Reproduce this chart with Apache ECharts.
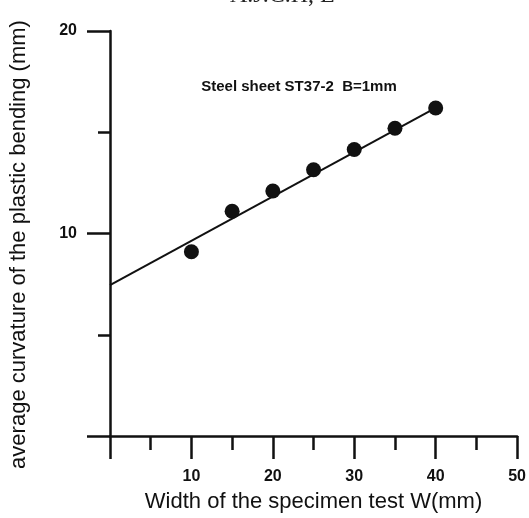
<!DOCTYPE html>
<html>
<head>
<meta charset="utf-8">
<script src="https://cdn.jsdelivr.net/npm/echarts@6/dist/echarts.min.js"></script>
<style>html,body{margin:0;padding:0;background:#fff}#c{width:529px;height:518px}</style>
</head>
<body>
<div id="c"></div>
<script>
var widths = [10, 15, 20, 25, 30, 35, 40];
var curvature = [9.1, 11.1, 12.1, 13.15, 14.15, 15.2, 16.2];
var fitLine = [[0, 7.45], [40, 16.2]];
var xLabels = [10, 20, 30, 40, 50];
var yLabels = [10, 20];

var chart = echarts.init(document.getElementById('c'), null, {renderer: 'canvas'});
var axisLine = {show: true, onZero: false, lineStyle: {color: '#111', width: 2.5}};
chart.setOption({
  backgroundColor: '#ffffff',
  animation: false,
  title: {
    text: 'Steel sheet ST37-2  B=1mm',
    left: 294, top: 74, textAlign: 'center',
    textStyle: {fontFamily: 'Liberation Sans, Arial', fontSize: 15, fontWeight: 'bold', color: '#111'}
  },
  graphic: [{
    type: 'text', left: 230, top: -16,
    style: {text: 'A.J.C.H, E', font: '24px "Liberation Serif", serif', fill: '#222'}
  }],
  grid: {left: 106, right: 9, top: 31, bottom: 79, containLabel: false},
  xAxis: {
    type: 'value', min: 0, max: 50, interval: 10,
    axisLine: axisLine,
    axisTick: {show: true, length: 23, lineStyle: {color: '#111', width: 2.5}},
    minorTick: {show: true, splitNumber: 2, length: 14, lineStyle: {color: '#111', width: 2.5}},
    splitLine: {show: false},
    axisLabel: {
      margin: 33,
      formatter: function (v) { return xLabels.indexOf(v) >= 0 ? String(v) : ''; },
      fontFamily: 'Liberation Sans, Arial', fontSize: 16, fontWeight: 'bold', color: '#111'
    },
    name: 'Width of the specimen test W(mm)',
    nameLocation: 'middle', nameGap: 55,
    nameTextStyle: {fontFamily: 'Liberation Sans, Arial', fontSize: 22, color: '#111'}
  },
  yAxis: {
    type: 'value', min: 0, max: 20, interval: 10,
    axisLine: axisLine,
    axisTick: {show: true, length: 23, lineStyle: {color: '#111', width: 2.5}},
    minorTick: {show: true, splitNumber: 2, length: 12, lineStyle: {color: '#111', width: 2.5}},
    splitLine: {show: false},
    axisLabel: {
      margin: 33,
      formatter: function (v) { return yLabels.indexOf(v) >= 0 ? String(v) : ''; },
      fontFamily: 'Liberation Sans, Arial', fontSize: 16, fontWeight: 'bold', color: '#111'
    },
    name: 'average curvature of the plastic bending (mm)',
    nameLocation: 'middle', nameGap: 80,
    nameTextStyle: {fontFamily: 'Liberation Sans, Arial', fontSize: 22, color: '#111', padding: [0, 22, 0, 0]}
  },
  series: [{
    type: 'line', data: fitLine, symbol: 'none',
    lineStyle: {color: '#111', width: 2}, z: 2
  }, {
    type: 'scatter', data: widths.map(function (w, i) { return [w, curvature[i]]; }),
    symbol: 'circle', symbolSize: 15,
    itemStyle: {color: '#111', opacity: 1}, z: 3
  }]
});
</script>
</body>
</html>
